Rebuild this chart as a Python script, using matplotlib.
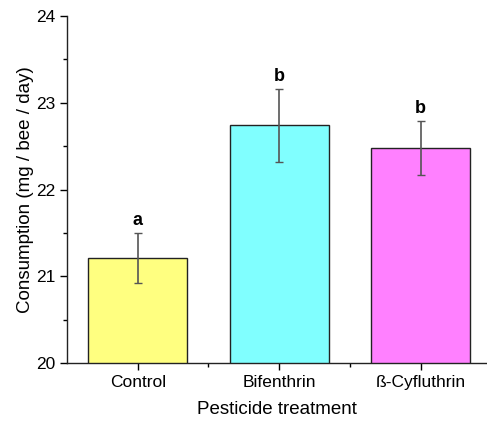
import matplotlib.pyplot as plt
from matplotlib.ticker import MultipleLocator

plt.rcParams["font.family"] = ["Liberation Sans", "DejaVu Sans"]

treatments = ["Control", "Bifenthrin", "ß-Cyfluthrin"]
consumption = [21.21, 22.74, 22.48]
errors = [0.29, 0.42, 0.31]
groups = ["a", "b", "b"]
bar_colors = ["#FFFF80", "#80FFFF", "#FF80FF"]

fig = plt.figure(figsize=(4.87, 4.26), dpi=100)
ax = fig.add_axes([67 / 487, 1 - 363 / 426, 420 / 487, 347 / 426])

x = range(len(treatments))
ax.bar(x, consumption, width=0.7, color=bar_colors, edgecolor="#222222", linewidth=1.0, zorder=2)
ax.errorbar(x, consumption, yerr=errors, fmt="none", ecolor="#555555",
            elinewidth=1.2, capsize=3, capthick=1.0, zorder=3)
for xi, val, err, grp in zip(x, consumption, errors, groups):
    ax.annotate(grp, (xi, val + err), xytext=(0, 3), textcoords="offset points",
                ha="center", va="bottom", fontsize=13, fontweight="bold")

ax.set_ylim(20, 24)
ax.set_xlim(-0.5, 2.47)
ax.yaxis.set_major_locator(MultipleLocator(1))
ax.yaxis.set_minor_locator(MultipleLocator(0.5))
ax.set_xticks(list(x), treatments)
ax.set_xticks([0.5, 1.5], minor=True)
ax.tick_params(axis="both", which="major", direction="out", length=5, width=1, labelsize=12.5)
ax.tick_params(axis="both", which="minor", direction="out", length=3, width=1)
ax.spines[["top", "right"]].set_visible(False)
for side in ["left", "bottom"]:
    ax.spines[side].set_linewidth(1.0)
    ax.spines[side].set_color("#222222")

ax.set_xlabel("Pesticide treatment", fontsize=13.5, labelpad=8)
ax.set_ylabel("Consumption (mg / bee / day)", fontsize=13.5, labelpad=1)

fig.savefig("out.png", dpi=100, facecolor="white")
